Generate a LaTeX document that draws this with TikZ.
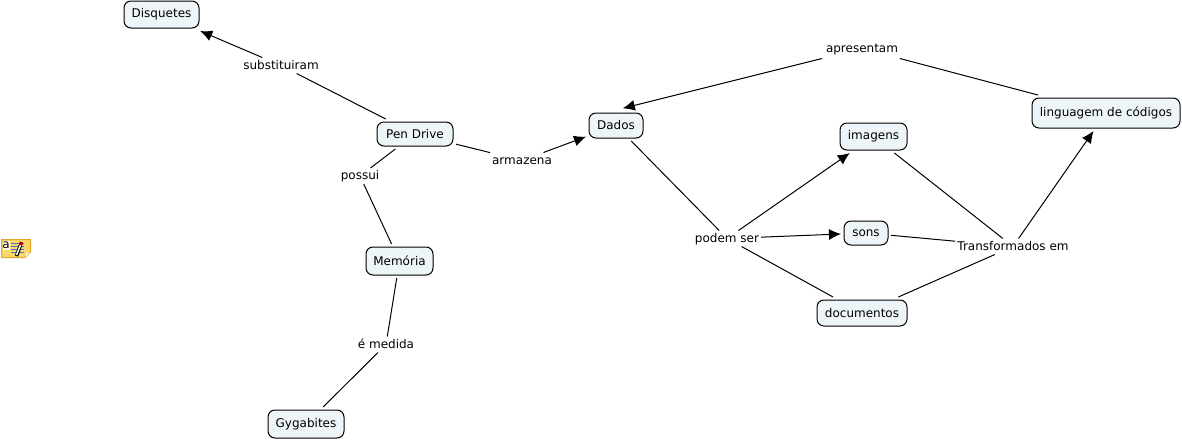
\documentclass[tikz,border=0pt]{standalone}
\usepackage{fontspec}
\setmainfont{DejaVu Sans}
\usetikzlibrary{arrows.meta,positioning}
\definecolor{conceptfill}{RGB}{238,245,248}
\definecolor{notefill}{RGB}{250,216,110}
\definecolor{noteedge}{RGB}{222,170,40}
\definecolor{noteline}{RGB}{70,120,190}
\tikzset{
  concept/.style={draw, rounded corners=7pt, fill=conceptfill, line width=1pt, inner sep=0pt, outer sep=3pt, font=\fontsize{12}{14}\selectfont},
  linker/.style={inner sep=0pt, fill=none, outer sep=2pt, text height=9.5pt, text depth=2.5pt, font=\fontsize{12}{14}\selectfont},
  joint/.style={draw, line width=1pt},
  jointhead/.style={joint, -{Latex[length=12pt,width=11pt]}},
}
\begin{document}
\begin{tikzpicture}[x=1pt,y=-1pt]
  \useasboundingbox (0,0) rectangle (1182,439);
  \node[concept, minimum width=75pt, minimum height=27pt] (disquetes) at (161.5,14.5) {Disquetes};
  \node[concept, minimum width=76pt, minimum height=24pt] (pendrive) at (415,134) {Pen Drive};
  \node[concept, minimum width=67pt, minimum height=28pt] (memoria) at (399.5,261) {Memória};
  \node[concept, minimum width=76pt, minimum height=28pt] (gygabites) at (306,424) {Gygabites};
  \node[concept, minimum width=54pt, minimum height=25pt] (dados) at (616,125.5) {Dados};
  \node[concept, minimum width=67pt, minimum height=27pt] (imagens) at (873.5,136.5) {imagens};
  \node[concept, minimum width=44pt, minimum height=24pt] (sons) at (866,233) {sons};
  \node[concept, minimum width=90pt, minimum height=26pt] (documentos) at (862,313) {documentos};
  \node[concept, minimum width=148pt, minimum height=30pt] (linguagem) at (1106,113) {linguagem de códigos};

  \node[linker] (substituiram) at (281,65.5) {substituiram};
  \node[linker] (possui) at (360,176) {possui};
  \node[linker] (armazena) at (522,160.5) {armazena};
  \node[linker] (medida) at (386,344.5) {é medida};
  \node[linker, outer sep=4pt] (apresentam) at (862,48.5) {apresentam};
  \node[linker] (podem) at (727,238.5) {podem ser};
  \node[linker] (transformados) at (1013,246.5) {Transformados em};

  \draw[joint] (pendrive) -- (substituiram); \draw[jointhead] (substituiram) -- (disquetes);
  \draw[joint] (pendrive) -- (possui); \draw[joint] (possui) -- (memoria);
  \draw[joint] (memoria) -- (medida); \draw[joint] (medida) -- (gygabites);
  \draw[joint] (pendrive) -- (armazena); \draw[jointhead] (armazena) -- (dados);
  \draw[joint] (linguagem) -- (apresentam); \draw[jointhead, shorten >=7pt] (apresentam) -- (dados.north);
  \draw[joint] (dados) -- (podem); \draw[jointhead] (podem) -- (imagens);
  \draw[jointhead] (podem) -- (sons); \draw[joint] (podem) -- (documentos);
  \draw[joint] (imagens) -- (transformados); \draw[joint] (sons) -- (transformados);
  \draw[joint] (documentos) -- (transformados); \draw[jointhead] (transformados) -- (linguagem);

  % note icon
  \draw[noteedge, fill=notefill, line width=1pt] (1.5,239.5) -- (30.5,239.5) -- (30.5,252) -- (25,257.5) -- (1.5,257.5) -- cycle;
  \fill[notefill!50!white] (30,252.5) -- (25.5,252.5) -- (25.5,257) -- cycle;
  \fill[white] (2.5,240.5) rectangle (9.5,250);
  \foreach \y in {243,246,249,252} \draw[noteline, line width=1pt] (11,\y) -- (24,\y);
  \draw[black, line width=3.5pt] (16.5,256) -- (20.5,245);
  \draw[white, line width=1.5pt] (16.5,255) -- (20.5,245);
  \draw[red!70!black, line width=3.5pt] (20.5,245) -- (21.5,242);
  \node[inner sep=0pt, font=\fontsize{12}{12}\selectfont] (noteletter) at (6,245) {a};
\end{tikzpicture}
\end{document}
